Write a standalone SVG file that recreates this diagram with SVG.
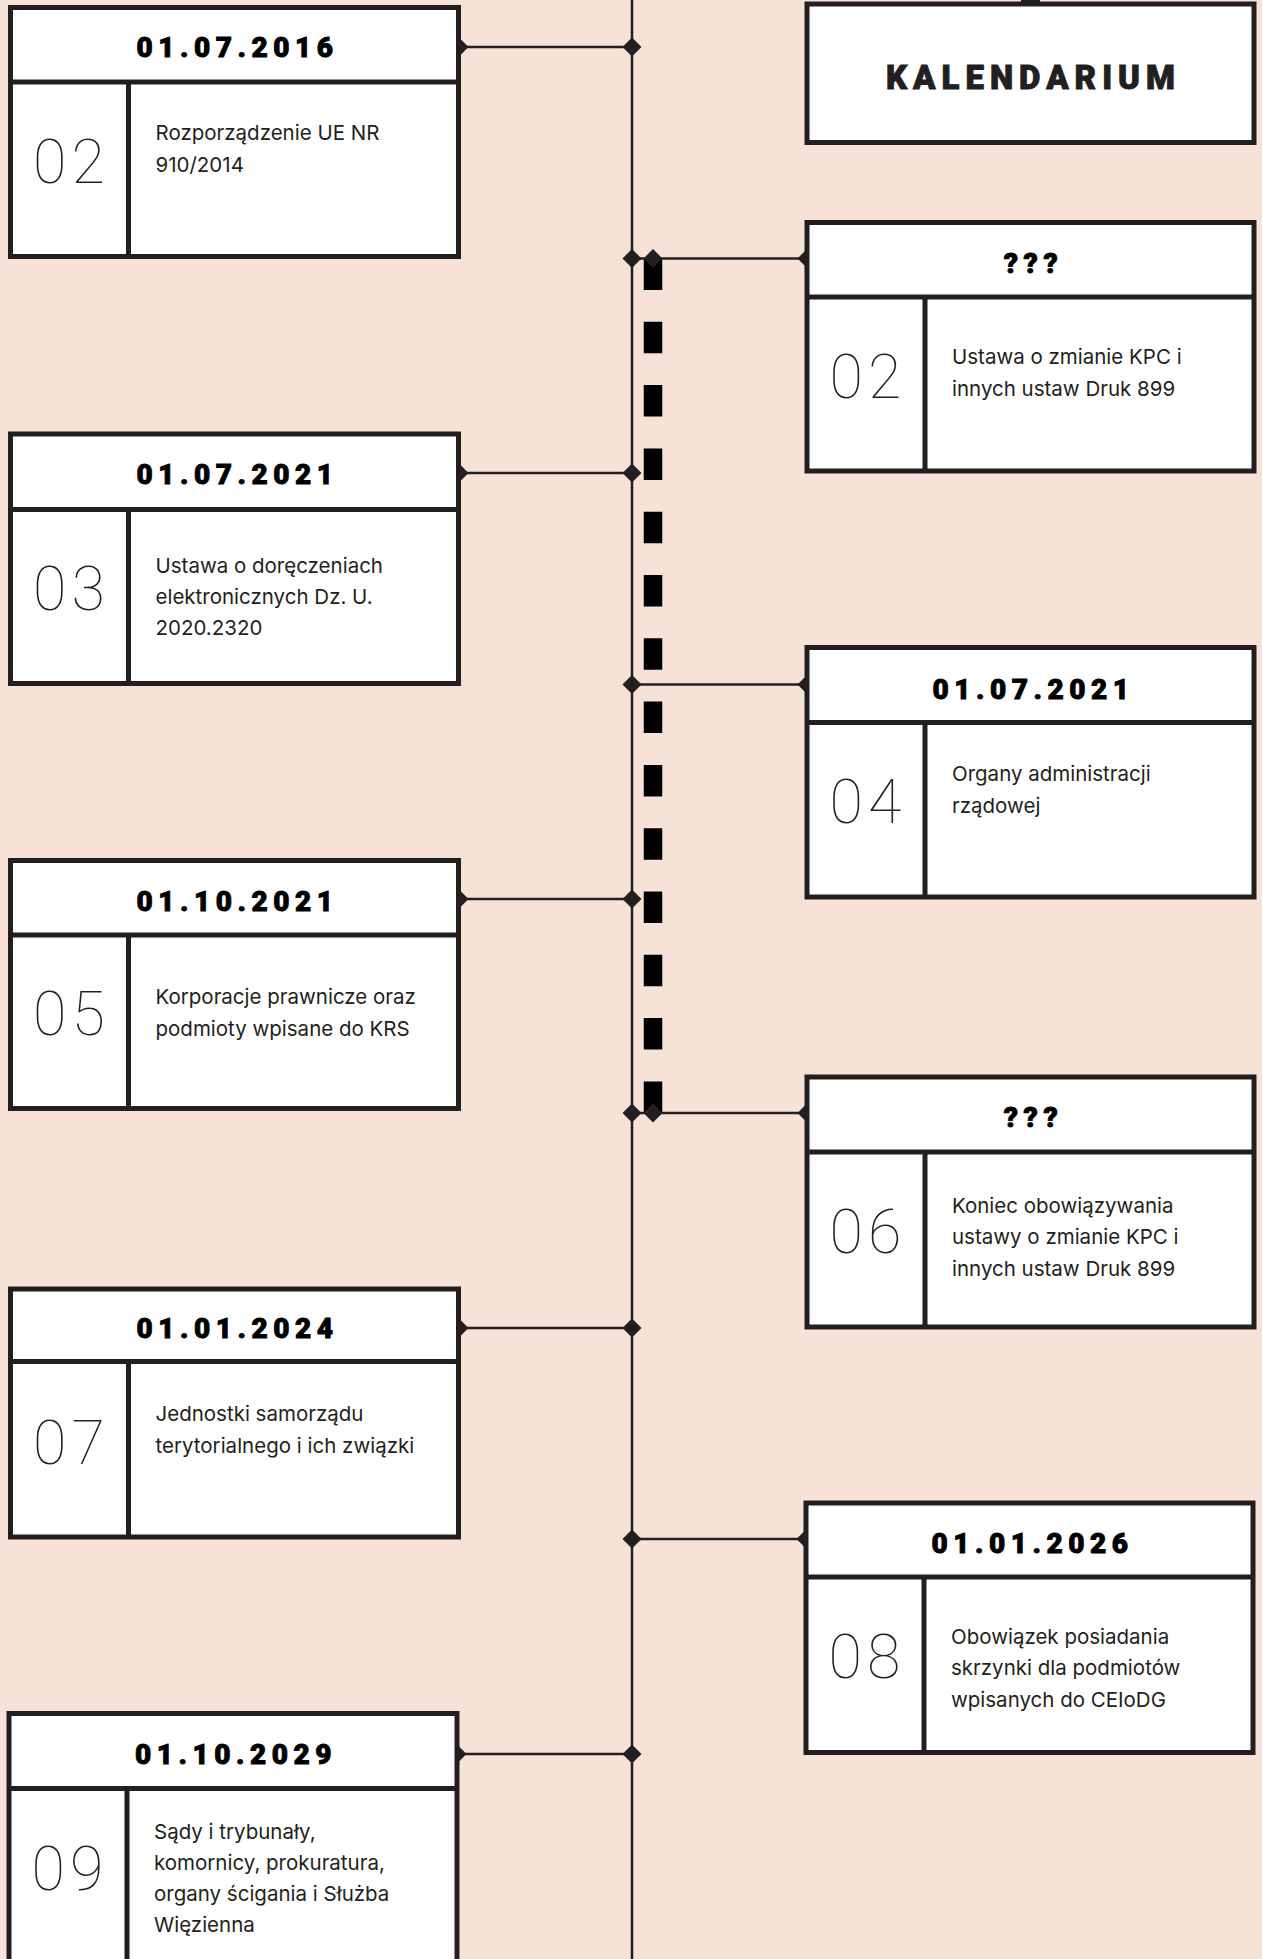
<svg xmlns="http://www.w3.org/2000/svg" width="1262" height="1959" viewBox="0 0 1262 1959">
<defs>
<style>
.bg{fill:#f6e2d6}
.box{fill:#fff;stroke:#231f20;stroke-width:5}
.sep{stroke:#231f20;stroke-width:5;fill:none}
.ln{stroke:#231f20;stroke-width:2.5;fill:none}
.dia{fill:#231f20}
.dash{stroke:#000;stroke-width:18.5;fill:none;stroke-dasharray:31.5 31.8}
.date{font-family:"Roboto","Liberation Sans",sans-serif;font-weight:900;font-size:28px;letter-spacing:5.5px;fill:#000;stroke:#000;stroke-width:0.9;text-anchor:middle}
.title{font-family:"Roboto","Liberation Sans",sans-serif;font-weight:900;font-size:33px;letter-spacing:6px;fill:#231f20;stroke:#231f20;stroke-width:0.9;text-anchor:middle}
.num{font-family:"Roboto","Lato",sans-serif;font-weight:100;font-size:61px;letter-spacing:5px;fill:#231f20;text-anchor:middle}
.body{font-family:"Inter","Roboto","Liberation Sans",sans-serif;font-size:20.5px;fill:#231f20}
</style>
<path id="d" d="M0,-9.5 L9.5,0 L0,9.5 L-9.5,0 Z"/>
</defs>
<rect class="bg" x="0" y="0" width="1262" height="1959"/>

<g id="connectors">
<line class="ln" x1="632" y1="0" x2="632" y2="1959"/>
<line class="dash" x1="653" y1="258.5" x2="653" y2="1113"/>
<rect x="1021" y="0" width="19" height="3" fill="#231f20"/>
<line class="ln" x1="459" y1="47" x2="632" y2="47"/>
<line class="ln" x1="632" y1="258.5" x2="807" y2="258.5"/>
<line class="ln" x1="459" y1="473" x2="632" y2="473"/>
<line class="ln" x1="632" y1="684.5" x2="807" y2="684.5"/>
<line class="ln" x1="459" y1="899" x2="632" y2="899"/>
<line class="ln" x1="632" y1="1113" x2="807" y2="1113"/>
<line class="ln" x1="459" y1="1328" x2="632" y2="1328"/>
<line class="ln" x1="632" y1="1539" x2="806" y2="1539"/>
<line class="ln" x1="457" y1="1754" x2="632" y2="1754"/>
<use href="#d" class="dia" x="632" y="47"/>
<use href="#d" class="dia" x="632" y="258.5"/>
<use href="#d" class="dia" x="653" y="258.5"/>
<use href="#d" class="dia" x="632" y="473"/>
<use href="#d" class="dia" x="632" y="684.5"/>
<use href="#d" class="dia" x="632" y="899"/>
<use href="#d" class="dia" x="632" y="1113"/>
<use href="#d" class="dia" x="653" y="1113"/>
<use href="#d" class="dia" x="632" y="1328"/>
<use href="#d" class="dia" x="632" y="1539"/>
<use href="#d" class="dia" x="632" y="1754"/>
<use href="#d" class="dia" x="459" y="47"/>
<use href="#d" class="dia" x="807" y="258.5"/>
<use href="#d" class="dia" x="459" y="473"/>
<use href="#d" class="dia" x="807" y="684.5"/>
<use href="#d" class="dia" x="459" y="899"/>
<use href="#d" class="dia" x="807" y="1113"/>
<use href="#d" class="dia" x="459" y="1328"/>
<use href="#d" class="dia" x="806" y="1539"/>
<use href="#d" class="dia" x="457" y="1754"/>
</g>

<g id="title" transform="translate(807,4)">
<rect class="box" x="0" y="0" width="447" height="138.5"/>
<text class="title" x="226.5" y="85">KALENDARIUM</text>
</g>

<g id="node-l1" transform="translate(10.5,7.5)">
<rect class="box" x="0" y="0" width="448" height="249"/>
<line class="sep" x1="0" y1="74.5" x2="448" y2="74.5"/>
<line class="sep" x1="118" y1="74.5" x2="118" y2="249"/>
<text class="date" x="227" y="49">01.07.2016</text>
<text class="num" x="61" y="175.5">02</text>
<text class="body" x="145"><tspan x="145" y="132.5">Rozporządzenie UE NR</tspan><tspan x="145" y="164">910/2014</tspan></text>
</g>

<g id="node-r1" transform="translate(807,222.5)">
<rect class="box" x="0" y="0" width="447" height="248.5"/>
<line class="sep" x1="0" y1="74.5" x2="447" y2="74.5"/>
<line class="sep" x1="118" y1="74.5" x2="118" y2="248.5"/>
<text class="date" x="226.5" y="50">???</text>
<text class="num" x="61" y="175.5">02</text>
<text class="body"><tspan x="145" y="141.5">Ustawa o zmianie KPC i</tspan><tspan x="145" y="173.5">innych ustaw Druk 899</tspan></text>
</g>

<g id="node-l2" transform="translate(10.5,434)">
<rect class="box" x="0" y="0" width="448" height="249.5"/>
<line class="sep" x1="0" y1="75.5" x2="448" y2="75.5"/>
<line class="sep" x1="118" y1="75.5" x2="118" y2="249.5"/>
<text class="date" x="227" y="50">01.07.2021</text>
<text class="num" x="61" y="176">03</text>
<text class="body"><tspan x="145" y="138.7">Ustawa o doręczeniach</tspan><tspan x="145" y="170">elektronicznych Dz. U.</tspan><tspan x="145" y="201">2020.2320</tspan></text>
</g>

<g id="node-r2" transform="translate(807,647.5)">
<rect class="box" x="0" y="0" width="447" height="249.5"/>
<line class="sep" x1="0" y1="75" x2="447" y2="75"/>
<line class="sep" x1="118" y1="75" x2="118" y2="249.5"/>
<text class="date" x="226.5" y="51.5">01.07.2021</text>
<text class="num" x="61" y="175.5">04</text>
<text class="body"><tspan x="145" y="133">Organy administracji</tspan><tspan x="145" y="165">rządowej</tspan></text>
</g>

<g id="node-l3" transform="translate(10.5,860.5)">
<rect class="box" x="0" y="0" width="448" height="248"/>
<line class="sep" x1="0" y1="74.5" x2="448" y2="74.5"/>
<line class="sep" x1="118" y1="74.5" x2="118" y2="248"/>
<text class="date" x="227" y="50">01.10.2021</text>
<text class="num" x="61" y="174.5">05</text>
<text class="body"><tspan x="145" y="143.5">Korporacje prawnicze oraz</tspan><tspan x="145" y="175">podmioty wpisane do KRS</tspan></text>
</g>

<g id="node-r3" transform="translate(807,1077)">
<rect class="box" x="0" y="0" width="447" height="250"/>
<line class="sep" x1="0" y1="75" x2="447" y2="75"/>
<line class="sep" x1="118" y1="75" x2="118" y2="250"/>
<text class="date" x="226.5" y="50">???</text>
<text class="num" x="61" y="175.5">06</text>
<text class="body"><tspan x="145" y="135.7">Koniec obowiązywania</tspan><tspan x="145" y="167">ustawy o zmianie KPC i</tspan><tspan x="145" y="199">innych ustaw Druk 899</tspan></text>
</g>

<g id="node-l4" transform="translate(10.5,1289)">
<rect class="box" x="0" y="0" width="448" height="248"/>
<line class="sep" x1="0" y1="72.5" x2="448" y2="72.5"/>
<line class="sep" x1="118" y1="72.5" x2="118" y2="248"/>
<text class="date" x="227" y="49">01.01.2024</text>
<text class="num" x="61" y="175">07</text>
<text class="body"><tspan x="145" y="131.7">Jednostki samorządu</tspan><tspan x="145" y="164">terytorialnego i ich związki</tspan></text>
</g>

<g id="node-r4" transform="translate(806,1503)">
<rect class="box" x="0" y="0" width="447" height="249.5"/>
<line class="sep" x1="0" y1="74" x2="447" y2="74"/>
<line class="sep" x1="118" y1="74" x2="118" y2="249.5"/>
<text class="date" x="226.5" y="50">01.01.2026</text>
<text class="num" x="61" y="175">08</text>
<text class="body"><tspan x="145" y="141">Obowiązek posiadania</tspan><tspan x="145" y="172">skrzynki dla podmiotów</tspan><tspan x="145" y="204">wpisanych do CEIoDG</tspan></text>
</g>

<g id="node-l5" transform="translate(9,1713.5)">
<rect class="box" x="0" y="0" width="448" height="255"/>
<line class="sep" x1="0" y1="75" x2="448" y2="75"/>
<line class="sep" x1="118" y1="75" x2="118" y2="255"/>
<text class="date" x="227" y="50">01.10.2029</text>
<text class="num" x="61" y="176.5">09</text>
<text class="body"><tspan x="145" y="125.5">Sądy i trybunały,</tspan><tspan x="145" y="156">komornicy, prokuratura,</tspan><tspan x="145" y="187.5">organy ścigania i Służba</tspan><tspan x="145" y="218">Więzienna</tspan></text>
</g>
</svg>
